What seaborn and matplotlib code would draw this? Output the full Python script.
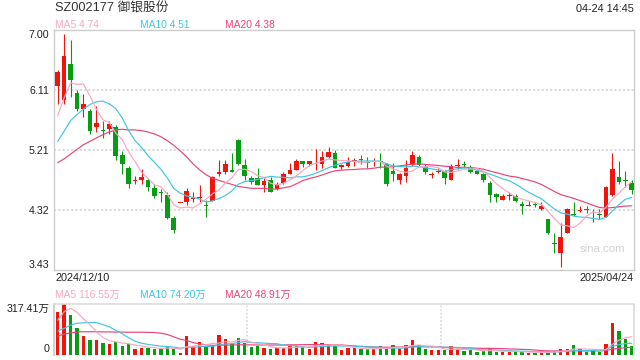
import matplotlib
matplotlib.use("Agg")
import matplotlib.pyplot as plt
import numpy as np
import pandas as pd
import seaborn as sns

# ---------------- data ----------------
title = "SZ002177 御银股份"
timestamp = "04-24 14:45"
first_date = "2024/12/10"
last_date = "2025/04/24"
price_ticks = [3.43, 4.32, 5.21, 6.11, 7.00]
vol_max = 317.41
vol_tick_labels = ["0", "317.41万"]
price_legend = ["MA5 4.74", "MA10 4.51", "MA20 4.38"]
vol_legend = ["MA5 116.55万", "MA10 74.20万", "MA20 48.91万"]
watermark = "sina.com"

opens = [6.17, 5.96, 6.49, 6.06, 5.82, 5.80, 5.56, 5.50, 5.52, 5.56,
         5.13, 4.95, 4.75, 4.76, 4.76, 4.65, 4.58, 4.54, 4.20, 4.42,
         4.44, 4.48, 4.50, 4.39, 4.45, 4.86, 4.89, 4.92, 5.36, 4.99,
         4.80, 4.79, 4.69, 4.76, 4.63, 4.72, 4.86, 4.92, 5.04, 5.00,
         5.04, 5.01, 5.10, 5.16, 4.96, 4.98, 5.05, 5.07, 5.03, 5.03,
         5.04, 5.01, 4.90, 4.76, 4.83, 4.99, 5.10, 4.96, 4.84, 4.88,
         4.90, 4.76, 4.97, 5.00, 4.95, 4.90, 4.86, 4.72, 4.56, 4.47,
         4.52, 4.52, 4.41, 4.38, 4.40, 4.33, 4.19, 3.82, 3.67, 3.97,
         4.25, 4.30, 4.33, 4.26, 4.25, 4.22, 4.54, 4.81, 4.76, 4.72]
highs = [6.40, 6.94, 6.85, 6.11, 6.05, 5.82, 5.87, 5.64, 5.65, 5.58,
         5.20, 4.98, 4.83, 4.93, 4.80, 4.71, 4.63, 4.59, 4.23, 4.42,
         4.65, 4.59, 4.69, 4.47, 4.82, 5.06, 5.06, 5.16, 5.38, 5.08,
         4.82, 4.94, 4.79, 4.81, 4.73, 4.89, 5.02, 5.07, 5.04, 5.05,
         5.23, 5.20, 5.25, 5.21, 5.01, 5.10, 5.09, 5.13, 5.11, 5.09,
         5.16, 5.02, 5.02, 4.87, 5.06, 5.19, 5.14, 5.00, 4.89, 4.95,
         4.92, 5.01, 5.07, 5.04, 4.99, 4.93, 4.87, 4.75, 4.57, 4.55,
         4.58, 4.56, 4.45, 4.45, 4.43, 4.44, 4.19, 3.98, 4.13, 4.34,
         4.43, 4.38, 4.38, 4.33, 4.33, 4.67, 5.16, 5.04, 4.90, 4.77]
lows = [5.90, 5.90, 6.00, 5.79, 5.70, 5.45, 5.48, 5.39, 5.45, 5.06,
        4.86, 4.64, 4.71, 4.71, 4.60, 4.49, 4.44, 4.18, 3.97, 4.42,
        4.39, 4.44, 4.44, 4.22, 4.45, 4.82, 4.85, 4.88, 4.99, 4.77,
        4.70, 4.69, 4.58, 4.58, 4.62, 4.70, 4.85, 4.91, 4.96, 4.98,
        4.92, 4.94, 5.09, 4.95, 4.93, 4.96, 4.97, 5.00, 4.95, 4.97,
        4.95, 4.68, 4.75, 4.71, 4.73, 4.98, 4.98, 4.85, 4.79, 4.87,
        4.71, 4.76, 4.93, 4.95, 4.87, 4.85, 4.73, 4.43, 4.44, 4.46,
        4.46, 4.44, 4.26, 4.37, 4.36, 4.32, 3.96, 3.67, 3.47, 3.97,
        4.23, 4.28, 4.27, 4.14, 4.18, 4.22, 4.53, 4.71, 4.66, 4.56]
closes = [6.38, 6.61, 6.26, 5.82, 5.90, 5.49, 5.62, 5.49, 5.60, 5.12,
          5.00, 4.71, 4.76, 4.81, 4.66, 4.52, 4.57, 4.20, 4.02, 4.42,
          4.60, 4.49, 4.51, 4.38, 4.81, 4.89, 5.01, 4.88, 5.01, 4.83,
          4.73, 4.69, 4.75, 4.58, 4.70, 4.86, 4.92, 5.05, 5.00, 5.04,
          5.05, 5.10, 5.18, 4.95, 4.99, 5.03, 5.06, 5.06, 5.02, 5.04,
          5.03, 4.70, 4.86, 4.85, 4.95, 5.14, 4.99, 4.88, 4.85, 4.89,
          4.80, 4.97, 4.98, 4.99, 4.89, 4.85, 4.76, 4.54, 4.51, 4.52,
          4.53, 4.45, 4.38, 4.39, 4.39, 4.38, 3.97, 3.81, 3.92, 4.33,
          4.24, 4.31, 4.32, 4.25, 4.24, 4.66, 4.93, 4.74, 4.75, 4.61]
volumes = [269, 317.41, 250, 168, 117, 90, 90, 73, 67, 80,
           52, 65, 33, 42, 40, 36, 36, 48, 36, 10,
           114, 52, 78, 54, 52, 122, 97, 69, 103, 73,
           48, 52, 42, 32, 38, 40, 59, 54, 45, 36,
           80, 73, 65, 52, 27, 40, 40, 33, 33, 33,
           52, 40, 59, 33, 59, 90, 57, 33, 27, 27,
           27, 52, 32, 21, 27, 15, 21, 38, 15, 15,
           15, 19, 19, 10, 10, 10, 19, 25, 32, 32,
           59, 32, 15, 25, 15, 65, 198, 147, 97, 52]

# moving-average values at the left edge (they depend on earlier, unseen days)
ma5_head = [5.72, 5.99, 6.21, 6.19]
ma10_head = [5.34, 5.49, 5.65, 5.74, 5.82, 5.89, 5.93, 5.94, 5.90]
ma20_head = [5.02, 5.08, 5.15, 5.22, 5.29, 5.34, 5.39, 5.44, 5.48, 5.51,
             5.52, 5.51, 5.51, 5.50, 5.48, 5.45, 5.41, 5.35, 5.28]
vma5_head = [216, 269, 290, 265]
vma10_head = [147, 164, 185, 196, 199, 201, 201, 188, 174]
vma20_head = [115, 128, 136, 141, 143, 143, 143, 142, 142, 141,
              141, 140, 140, 140, 139, 138, 134, 126, 111]

# ---------------- style ----------------
RED = "#f0150c"
GREEN = "#079c12"
C_MA5 = "#fba5c4"
C_MA10 = "#3fc6e2"
C_MA20 = "#ea4478"
FRAME = "#cccccc"
GRID = "#dadada"

sns.set_theme(style="white")
plt.rcParams["font.family"] = ["Liberation Sans", "Noto Sans CJK SC", "DejaVu Sans"]

n = len(closes)
df = pd.DataFrame({"x": np.arange(n), "open": opens, "high": highs,
                   "low": lows, "close": closes, "vol": volumes})


def moving(series, w, head):
    m = series.rolling(w).mean().to_numpy()
    m[:len(head)] = head
    return m


df["ma5"] = moving(df["close"], 5, ma5_head)
df["ma10"] = moving(df["close"], 10, ma10_head)
df["ma20"] = moving(df["close"], 20, ma20_head)
df["vma5"] = moving(df["vol"], 5, vma5_head)
df["vma10"] = moving(df["vol"], 10, vma10_head)
df["vma20"] = moving(df["vol"], 20, vma20_head)

up = df["close"] >= df["open"]
colors = np.where(up, RED, GREEN)

W, H = 640, 360
fig = plt.figure(figsize=(6.4, 3.6), dpi=100)
ax = fig.add_axes([54 / W, 1 - 269.5 / H, 580 / W, 239.5 / H])
axv = fig.add_axes([54 / W, 1 - 354.5 / H, 580 / W, 50.5 / H])

xlim = (-0.57, 89.35)

# ---- price panel ----
for t in price_ticks[1:-1]:
    ax.axhline(t, color=GRID, lw=1.4, ls=(0, (1.1, 1.1)), zorder=1)

ax.text(0.946, 0.085, watermark, transform=ax.transAxes, color="#d2d2d2",
        fontsize=8.2, ha="center", va="center", zorder=1.5)

ax.vlines(df["x"], df["low"], df["high"], colors=colors, lw=0.8, zorder=2)
body_lo = np.minimum(df["open"], df["close"])
body_h = np.maximum((df["close"] - df["open"]).abs(), 0.014)
ax.bar(df["x"], body_h, bottom=body_lo, width=0.72, color=colors,
       linewidth=0, zorder=3)

for col, c in (("ma20", C_MA20), ("ma10", C_MA10), ("ma5", C_MA5)):
    sns.lineplot(data=df, x="x", y=col, ax=ax, color=c, lw=0.85, zorder=4)

ax.set_xlim(*xlim)
ax.set_ylim(price_ticks[0], price_ticks[-1])
ax.set_xticks([])
ax.set_yticks(price_ticks)
ax.set_yticklabels([f"{t:.2f}" for t in price_ticks])
ax.tick_params(axis="y", length=0, pad=3.2, labelsize=7.7, labelcolor="#222222")
labs = ax.get_yticklabels()
labs[0].set_va("bottom")
labs[-1].set_va("top")
ax.set_xlabel("")
ax.set_ylabel("")
for s in ax.spines.values():
    s.set_color(FRAME)
    s.set_linewidth(1.0)

# ---- volume panel ----
axv.bar(df["x"], df["vol"], width=0.52, color=colors, linewidth=0, zorder=2)
for col, c in (("vma20", C_MA20), ("vma10", C_MA10), ("vma5", C_MA5)):
    sns.lineplot(data=df, x="x", y=col, ax=axv, color=c, lw=0.85, zorder=4)
axv.set_xlim(*xlim)
axv.set_ylim(0, vol_max)
for k in (1, 2):
    xv = xlim[0] + (xlim[1] - xlim[0]) * k / 3
    axv.axvline(xv, color=GRID, lw=1.2, ls=(0, (1.1, 1.1)), zorder=1)
axv.set_xticks([])
axv.set_yticks([0, vol_max])
axv.set_yticklabels(vol_tick_labels)
axv.tick_params(axis="y", length=0, pad=3.2, labelsize=7.7, labelcolor="#222222")
vl = axv.get_yticklabels()
vl[0].set_va("bottom")
vl[-1].set_va("top")
axv.set_xlabel("")
axv.set_ylabel("")
axv.spines["left"].set_color(FRAME)
axv.spines["bottom"].set_visible(False)
for side in ("top", "right"):
    axv.spines[side].set_color(GRID)
    axv.spines[side].set_linewidth(1.2)
    axv.spines[side].set_linestyle((0, (1.1, 1.1)))

# ---- texts ----
def ftext(x, y, s, **kw):
    fig.text(x / W, 1 - y / H, s, va="center", **kw)

ftext(55, 8.5, title, fontsize=9.2, color="#333333")
ftext(634, 8.5, timestamp, fontsize=7.8, color="#222222", ha="right")
for xx, s, c in zip((55, 140, 225), price_legend, (C_MA5, C_MA10, C_MA20)):
    ftext(xx, 24.5, s, fontsize=7.4, color=c)
ftext(55, 278, first_date, fontsize=7.8, color="#222222")
ftext(634, 278, last_date, fontsize=7.8, color="#222222", ha="right")
for xx, s, c in zip((55, 140, 225), vol_legend, (C_MA5, C_MA10, C_MA20)):
    ftext(xx, 294.5, s, fontsize=7.4, color=c)

fig.savefig("out.png", dpi=100)
